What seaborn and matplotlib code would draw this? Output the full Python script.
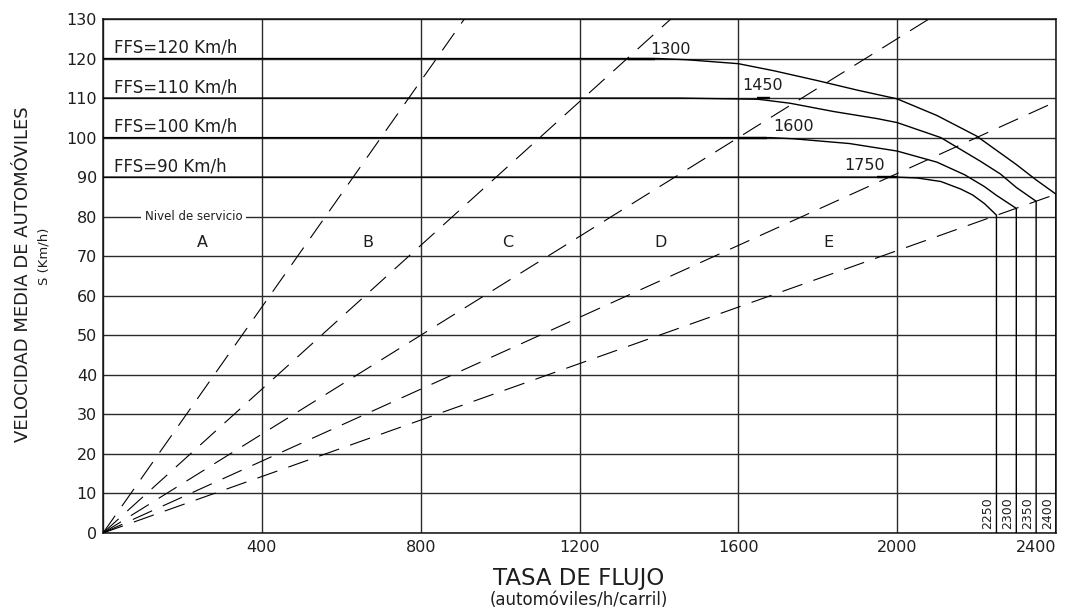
import numpy as np
import pandas as pd
import matplotlib
matplotlib.use("Agg")
import matplotlib.pyplot as plt
import seaborn as sns

# ---- speed-flow curves (flow in automóviles/h/carril, speed in km/h) ----
ffs_values = [120, 110, 100, 90]
breakpoints = [1300, 1450, 1600, 1750]
capacities = [2400, 2350, 2300, 2250]
capacity_speeds = [85.7, 83.9, 82.1, 80.4]

tail_flow_120 = [1400, 1470, 1600, 1690, 1800, 1900, 2000, 2100, 2200, 2300, 2350]
tail_speed_120 = [120.0, 119.7, 118.7, 116.9, 114.4, 112.0, 109.8, 105.6, 100.4, 93.2, 89.3]
tail_flow_110 = [1650, 1730, 1840, 1950, 2000, 2110, 2210, 2260, 2300]
tail_speed_110 = [109.7, 108.7, 106.6, 104.8, 103.8, 100.0, 94.0, 90.8, 87.4]
tail_flow_100 = [1680, 1740, 1880, 2000, 2100, 2170, 2220, 2250]
tail_speed_100 = [100.0, 99.7, 98.5, 96.6, 93.8, 90.6, 87.6, 85.4]
tail_flow_90 = [2000, 2050, 2110, 2160, 2190, 2220]
tail_speed_90 = [90.0, 89.8, 88.9, 87.0, 85.5, 83.3]

tails = {
    120: (tail_flow_120, tail_speed_120),
    110: (tail_flow_110, tail_speed_110),
    100: (tail_flow_100, tail_speed_100),
    90: (tail_flow_90, tail_speed_90),
}

# short heavier strokes where each curve leaves its free-flow level
heavy_start = [1322, 1647, 1600, 1950]
heavy_end = [1389, 1680, 1672, 2002]

# ---- level-of-service boundaries (rays from the origin) ----
los_end_flow = [910, 1430, 2080, 2400, 2400]
los_end_speed = [130, 130, 130, 109.1, 85.7]

los_letters = ["A", "B", "C", "D", "E"]
los_letter_flow = [250, 667, 1020, 1403, 1826]

x_ticks = [0, 400, 800, 1200, 1600, 2000, 2400]
x_tick_labels = ["", "400", "800", "1200", "1600", "2000", "2400"]
y_ticks = list(range(0, 131, 10))

# ---- figure ----
sns.set_theme(style="white")
plt.rcParams["font.family"] = ["DejaVu Sans"]
ink = "#1e1e1e"

fig = plt.figure(figsize=(10.68, 6.11), dpi=100)
ax = fig.add_axes([103 / 1068, 1 - 533 / 611, (1056 - 103) / 1068, (533 - 19) / 611])
ax.set_xlim(0, 2400)
ax.set_ylim(0, 130)
ax.set_xticks(x_ticks)
ax.set_xticklabels(x_tick_labels)
ax.set_yticks(y_ticks)
ax.grid(True, color="#2b2b2b", lw=1.0)
ax.set_axisbelow(True)
ax.tick_params(axis="both", length=0, labelsize=11.5, colors=ink)
ax.tick_params(axis="y", pad=4.3)
ax.tick_params(axis="x", pad=5)
ax.get_xticklabels()[-1].set_horizontalalignment("right")
for s in ax.spines.values():
    s.set_color("#111111")
    s.set_linewidth(1.1)

# dashed LOS boundary rays
for xe, ye in zip(los_end_flow, los_end_speed):
    sns.lineplot(x=[0, xe], y=[0, ye], ax=ax, color="black", lw=0.8,
                 estimator=None, sort=False, linestyle=(0, (19, 10.5)), zorder=3)

# speed-flow curves, each dropping vertically at capacity
for ffs, bp, cap, cap_s, h0, h1 in zip(ffs_values, breakpoints, capacities,
                                       capacity_speeds, heavy_start, heavy_end):
    tf, ts = tails[ffs]
    df = pd.DataFrame({
        "flujo": [0, bp] + tf + [cap, cap],
        "velocidad": [ffs, ffs] + ts + [cap_s, 0],
    })
    sns.lineplot(data=df, x="flujo", y="velocidad", ax=ax, color="black",
                 lw=1.0, estimator=None, sort=False, zorder=4)
    sns.lineplot(x=[h0, h1], y=[ffs, ffs], ax=ax, color="black", lw=1.7,
                 estimator=None, sort=False, zorder=4, solid_capstyle="butt")

ax.set_xlabel("")
ax.set_ylabel("")

# FFS labels
for ffs in ffs_values:
    ax.text(28, ffs + 2.7, f"FFS={ffs} Km/h", fontsize=12, color=ink,
            ha="left", va="center", zorder=5)

# breakpoint labels
bp_label_pos = [(1377, 122.4), (1610, 113.2), (1687, 102.9), (1867, 93.0)]
for bp, (lx, ly) in zip(breakpoints, bp_label_pos):
    ax.text(lx, ly, f"{bp}", fontsize=11.5, color=ink, ha="left", va="center",
            zorder=5)

# capacity labels in the bottom cells
for cap in capacities:
    ax.text(cap - 21, 5, f"{cap}", fontsize=9, color=ink, rotation=90,
            ha="center", va="center", zorder=5)

# level of service labels
ax.text(228, 80, "Nivel de servicio", fontsize=8.5, color=ink, ha="center",
        va="center", zorder=5,
        bbox=dict(boxstyle="square,pad=0.35", fc="white", ec="none"))
for letter, lx in zip(los_letters, los_letter_flow):
    ax.text(lx, 73.5, letter, fontsize=11.5, color=ink, ha="center",
            va="center", zorder=5)

# axis titles
fig.text(23 / 1068, 1 - 274 / 611, "VELOCIDAD MEDIA DE AUTOMÓVILES",
         rotation=90, fontsize=13, color=ink, ha="center", va="center")
fig.text(44 / 1068, 1 - 256 / 611, "S (Km/h)", rotation=90, fontsize=9.5,
         color=ink, ha="center", va="center")
fig.text(579 / 1068, 1 - 578 / 611, "TASA DE FLUJO", fontsize=16.5,
         color=ink, ha="center", va="center")
fig.text(579 / 1068, 1 - 600 / 611, "(automóviles/h/carril)", fontsize=12,
         color=ink, ha="center", va="center")

fig.savefig("out.png", dpi=100, facecolor="white")
